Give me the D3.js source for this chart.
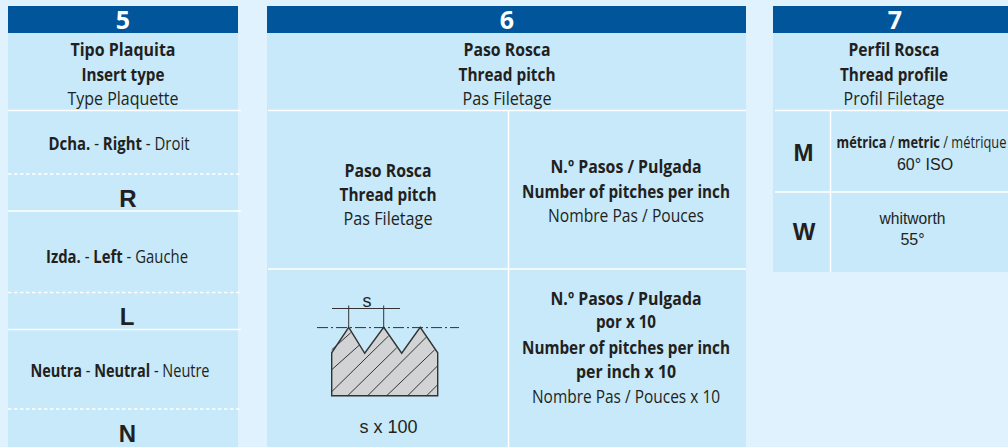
<!DOCTYPE html>
<html><head><meta charset="utf-8">
<script src="https://cdn.jsdelivr.net/npm/d3@7"></script>
<style>html,body{margin:0;padding:0;background:#E0F2FD;overflow:hidden}svg{display:block}</style>
</head><body><svg id="c" width="1008" height="447"></svg>
<script>
// ---- content ----
const columnNumbers = ["5", "6", "7"];
const col5Title = ["Tipo Plaquita", "Insert type", "Type Plaquette"];
const col6Title = ["Paso Rosca", "Thread pitch", "Pas Filetage"];
const col7Title = ["Perfil Rosca", "Thread profile", "Profil Filetage"];
const insertNames = [["Dcha.", "Right", "Droit"], ["Izda.", "Left", "Gauche"], ["Neutra", "Neutral", "Neutre"]];
const insertCodes = ["R", "L", "N"];
const pitchLeft = ["Paso Rosca", "Thread pitch", "Pas Filetage"];
const pitchRight = ["N.º Pasos / Pulgada", "Number of pitches per inch", "Nombre Pas / Pouces"];
const pitchRight10 = ["N.º Pasos / Pulgada", "por x 10", "Number of pitches per inch", "per inch x 10", "Nombre Pas / Pouces x 10"];
const pitchCaption = "s x 100";
const pitchSymbol = "s";
const profileCodes = ["M", "W"];
const metricNames = ["métrica", "metric", "métrique"];
const metricAngle = "60° ISO";
const whitName = "whitworth";
const whitAngle = "55°";
// thread section, units along the drawing (x right, y up from base)
const threadX = [0, 0, 17, 33, 52, 70, 88.5, 106, 106];
const threadY = [0, 43, 68.5, 42.5, 68.5, 42.5, 68.5, 43, 0];
const hatchX0 = [0, 0, 0, 16, 36, 55, 76, 95];
const hatchY0 = [46, 26, 4, 0, 0, 0, 0, 0];
const hatchX1 = [19, 28, 57, 65, 95, 103, 106, 106];
const hatchY1 = [63, 51, 60, 48, 59, 46, 30, 11];
const pitchMarks = [17, 52];

// ---- drawing ----
const svg = d3.select("#c");
const INK = "#231F20", PANEL = "#C7E9FA", HEAD = "#00559B", BODY = "'Open Sans', 'Noto Sans', sans-serif", ARIAL = "'Liberation Sans', Arial, sans-serif";
const panels = [{x:8,w:230,h:441},{x:267,w:479,h:441},{x:773,w:235,h:266}];
svg.selectAll("rect.p").data(panels).join("rect").attr("class","p")
  .attr("x",d=>d.x).attr("y",6).attr("width",d=>d.w).attr("height",d=>d.h).attr("fill",PANEL);
svg.selectAll("rect.h").data(panels).join("rect").attr("class","h")
  .attr("x",d=>d.x).attr("y",6).attr("width",d=>d.w).attr("height",27).attr("fill",HEAD);
svg.selectAll("text.n").data(columnNumbers).join("text").attr("class","n")
  .attr("x",(d,i)=>[123,507,895][i]).attr("y",28.5).attr("text-anchor","middle")
  .attr("font-family",BODY).attr("font-weight",700).attr("font-size",25).attr("fill","#fff").text(d=>d);

function rule(x1,y1,x2,y2,dash,w){
  svg.append("line").attr("x1",x1).attr("y1",y1).attr("x2",x2).attr("y2",y2)
    .attr("stroke", "#fff").attr("stroke-width",w||1.5).attr("stroke-dasharray",dash?"3.5 2.5":null);
}
rule(8,110.5,241,110.5); rule(8,174,241,174,true); rule(8,211,241,211);
rule(8,292.5,241,292.5,true); rule(8,329.5,241,329.5); rule(8,409,241,409,true);
rule(268,110.5,746,110.5); rule(508.5,110,508.5,447); rule(268,269,746,269);
rule(775,110.5,1008,110.5); rule(830.5,110,830.5,272); rule(775,192,1008,192);

function put(x,y,runs,width,size,fam){
  const t = svg.append("text").attr("text-anchor","middle")
    .attr("font-family",fam||BODY).attr("font-size",size||17.3).attr("fill",INK)
    .style("white-space","pre");
  runs.forEach(r=>t.append("tspan").attr("font-weight",r[1]?700:400).text(r[0]));
  const k = width ? width / t.node().getComputedTextLength() : 1;
  t.attr("transform",`translate(${x},${fam?y:y+1}) scale(${k},1)`);
  return t;
}
const B=s=>[[s,true]], R=s=>[[s,false]];
function title(cx,arr,ws,ys){ put(cx,ys[0],B(arr[0]),ws[0]); put(cx,ys[1],B(arr[1]),ws[1]); put(cx,ys[2],R(arr[2]),ws[2]); }
const titleY=[55,80,104];
title(123,col5Title,[105,83,111],titleY);
title(507,col6Title,[87,97,89],titleY);
title(894,col7Title,[91,108,101],titleY);

const nameY=[148.7,261.7,375.7], nameW=[141,142,179], nameX=[119,117,120];
insertNames.forEach((n,i)=>put(nameX[i],nameY[i],[[n[0],true],[" - ",false],[n[1],true],[" - ",false],[n[2],false]],nameW[i]));
const codeY=[207,325,441.7], codeX=[128,127,127.5];
insertCodes.forEach((c,i)=>put(codeX[i],codeY[i],B(c),null,24,ARIAL));

title(388,pitchLeft,[87,97,89],[176,200,224]);
title(626,pitchRight,[151,208,156],[172,197,221]);
const r10Y=[304,327,353,377,402], r10W=[151,60,208,100,188];
pitchRight10.forEach((s,i)=>put(626,r10Y[i],i<4?B(s):R(s),r10W[i]));

put(803.5,160.7,B(profileCodes[0]),null,24,ARIAL);
put(804,240,B(profileCodes[1]),null,24,ARIAL);
put(921.5,146.7,[[metricNames[0],true],[" / ",false],[metricNames[1],true],[" / ",false],[metricNames[2],false]],170,15.5);
put(925,170,R(metricAngle),null,16,ARIAL);
put(912.5,224,R(whitName),66,16,ARIAL);
put(912.5,245,R(whitAngle),null,16,ARIAL);

// thread diagram
const sx=d3.scaleLinear().domain([0,106]).range([331.7,437.7]);
const sy=d3.scaleLinear().domain([0,68.5]).range([395.7,327.3]);
const pts=d3.zip(threadX,threadY);
svg.append("path").attr("d",d3.line().x(d=>sx(d[0])).y(d=>sy(d[1])).curve(d3.curveLinearClosed)(pts))
  .attr("fill","#D2D3D5").attr("stroke","#333").attr("stroke-width",1.4);
hatchX0.forEach((x,i)=>svg.append("line").attr("x1",sx(x)).attr("y1",sy(hatchY0[i])).attr("x2",sx(hatchX1[i])).attr("y2",sy(hatchY1[i]))
  .attr("stroke","#333").attr("stroke-width",1));
svg.append("line").attr("x1",317).attr("y1",327.6).attr("x2",459).attr("y2",327.6).attr("stroke","#333").attr("stroke-width",1).attr("stroke-dasharray","11 3 2 3");
svg.append("line").attr("x1",332).attr("y1",308.5).attr("x2",400).attr("y2",308.5).attr("stroke","#333").attr("stroke-width",1);
pitchMarks.forEach(m=>svg.append("line").attr("x1",sx(m)).attr("y1",305.5).attr("x2",sx(m)).attr("y2",sy(68.5)).attr("stroke","#333").attr("stroke-width",1));
put(367,306.5,R(pitchSymbol),null,18,ARIAL);
put(388.5,432.5,R(pitchCaption),null,18,ARIAL);
</script></body></html>
